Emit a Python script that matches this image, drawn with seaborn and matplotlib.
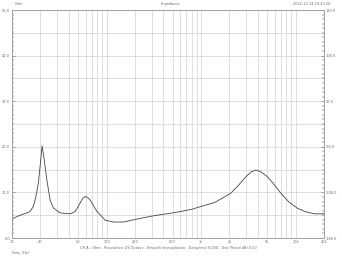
import matplotlib
matplotlib.use("Agg")
import matplotlib.pyplot as plt
import matplotlib.ticker as mticker
import seaborn as sns
import pandas as pd

# ---- data ----
freq_hz = [10, 12.2, 14, 15.5, 16.8, 17.9, 19.0, 20.0, 20.8, 21.8, 23.4, 25.3, 27.4,
           32.3, 41.3, 46.6, 52.7, 56, 59.6, 63, 67.3, 79.3, 97, 120, 150, 228, 300, 400,
           500, 607, 800, 990, 1400, 2060, 2500, 2970, 3400, 3800, 4300, 5060, 5900,
           7000, 8500, 10500, 13000, 15900, 20000]
impedance_ohm = [4.2, 5.0, 5.4, 5.8, 6.9, 9.1, 12.0, 16.5, 20.2, 17.5, 12.7, 8.3, 6.6,
                 5.5, 5.3, 5.8, 7.7, 8.7, 9.1, 8.9, 8.3, 5.8, 3.9, 3.5, 3.5, 4.3, 4.8, 5.2,
                 5.5, 5.8, 6.3, 6.9, 7.8, 9.8, 11.6, 13.4, 14.5, 14.9, 14.5, 13.4, 11.8,
                 9.8, 7.9, 6.5, 5.7, 5.3, 5.3]
x_ticks = [10, 20, 50, 100, 200, 500, 1000, 2000, 5000, 10000, 20000]
x_ticklabels = ["10", "20", "50", "100", "200", "500", "1k", "2k", "5k", "10k", "20k"]
y_ticks = [0, 10, 20, 30, 40, 50]
phase_ticks = [-180, -108, -36, 36, 108, 180]

df = pd.DataFrame({"Frequency": freq_hz, "Impedance": impedance_ohm})

sns.set_theme(style="white")
plt.rcParams['font.family'] = ['DejaVu Sans']

W, H = 342, 257
fig = plt.figure(figsize=(W / 100, H / 100), dpi=100)
fig.patch.set_facecolor("white")
left, right, top, bottom = 12, 324, 10, 238
ax = fig.add_axes([left / W, 1 - bottom / H, (right - left) / W, (bottom - top) / H])
ax.set_facecolor("white")

grid_c = "#d6d6d6"
fs = 2.5
txt_c = "#666666"

sns.lineplot(data=df, x="Frequency", y="Impedance", ax=ax, color="#444444",
             linewidth=0.6, legend=False)

ax.set_xscale("log")
ax.set_xlim(10, 20000)
ax.set_ylim(0, 50)

for dec in [10, 100, 1000, 10000]:
    for m in range(1, 10):
        f = dec * m
        if 10 <= f <= 20000:
            ax.axvline(f, color=grid_c, linewidth=0.55, zorder=0)
for yv in range(0, 51, 5):
    ax.axhline(yv, color=grid_c, linewidth=0.55, zorder=0)

ax.xaxis.set_major_locator(mticker.FixedLocator(x_ticks))
ax.xaxis.set_minor_locator(mticker.NullLocator())
ax.set_xticklabels(x_ticklabels)
ax.set_yticks(y_ticks)
ax.set_yticklabels([f"{v:.1f}" for v in y_ticks])
ax.yaxis.set_minor_locator(mticker.MultipleLocator(1))
ax.tick_params(axis="x", which="both", length=0, labelsize=fs, colors=txt_c, pad=1.5)
ax.tick_params(axis="y", which="major", direction="in", length=2.5, width=0.4,
               labelsize=fs, colors=txt_c, pad=1.5, left=True)
ax.tick_params(axis="y", which="minor", direction="in", length=1.5, width=0.3, left=True)
ax.set_xlabel("")
ax.set_ylabel("")
for s in ax.spines.values():
    s.set_color("#a0a0a0")
    s.set_linewidth(0.6)

ax2 = ax.twinx()
ax2.set_ylim(-180, 180)
ax2.set_yticks(phase_ticks)
ax2.set_yticklabels([f"{v:.1f}" for v in phase_ticks])
ax2.yaxis.set_minor_locator(mticker.MultipleLocator(7.2))
ax2.tick_params(axis="y", which="major", direction="in", length=2.5, width=0.4,
                labelsize=fs, colors=txt_c, pad=1.5)
ax2.tick_params(axis="y", which="minor", direction="in", length=1.5, width=0.3)
for s in ax2.spines.values():
    s.set_color("#a0a0a0")
    s.set_linewidth(0.6)

fig.text(15 / W, 1 - 4 / H, "Ohm", fontsize=fs, color=txt_c, ha="left", va="center")
fig.text(170 / W, 1 - 4 / H, "Impedance", fontsize=fs, color=txt_c, ha="center", va="center")
fig.text(330 / W, 1 - 4 / H, "2022-12-14 10:43:20", fontsize=fs, color=txt_c,
         ha="right", va="center")
fig.text(168 / W, 1 - 248 / H,
         "CH A - Ohm - Resolution 1/6 Octave - Smooth Interpolation - Delay(ms) 0.000 - Dist Phase(dB) 0.00",
         fontsize=fs, color=txt_c, ha="center", va="center")
fig.text(12 / W, 1 - 253 / H, "Freq. (Hz)", fontsize=fs, color=txt_c, ha="left", va="center")

fig.savefig("out.png", dpi=100, facecolor="white")
